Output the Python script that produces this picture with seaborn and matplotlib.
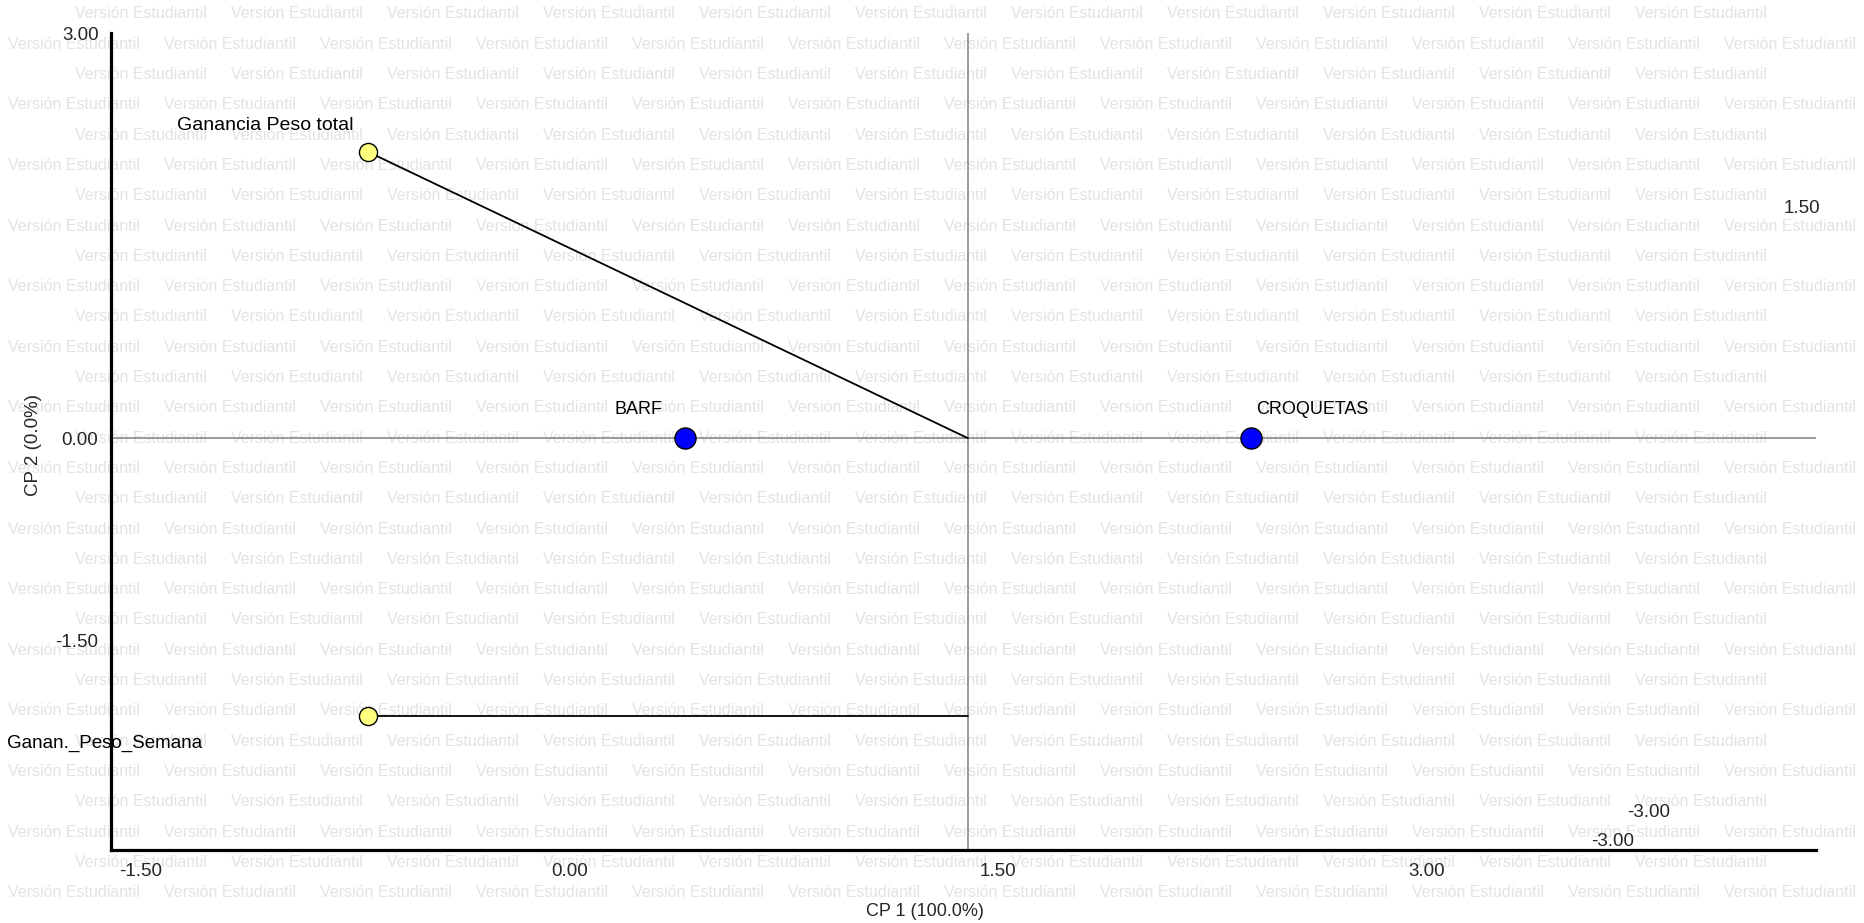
import numpy as np
import matplotlib
matplotlib.use("Agg")
import matplotlib.pyplot as plt
import matplotlib.transforms as mtransforms
import seaborn as sns

# biplot data (CP1, CP2)
obj_names = ["BARF", "CROQUETAS"]
obj_x = [-0.99, 0.99]
obj_y = [0.0, 0.0]

var_names = ["Ganancia Peso total", "Ganan._Peso_Semana"]
var_x = [-2.10, -2.10]
var_y = [2.12, -2.06]
var_end_x = [0.0, 0.0]
var_end_y = [0.0, -2.06]

x_ticks = [-3.0, -1.5, 0.0, 1.5]
x_tick_labels = ["-1.50", "0.00", "1.50", "3.00"]
y_ticks = [3.0, 0.0, -1.5]
y_tick_labels = ["3.00", "0.00", "-1.50"]
stray_labels = ["1.50", "-3.00", "-3.00"]

sns.set_style("white")
plt.rcParams["font.family"] = ["Liberation Sans", "DejaVu Sans"]
num_size = 13.5

fig = plt.figure(figsize=(18.65, 9.23), dpi=100)
ax = fig.add_axes([111 / 1865, 1 - 850 / 923, 1705 / 1865, 817 / 923])
ax.patch.set_alpha(0)

# watermark "Versión Estudiantil" behind the chart
wm = "Versión Estudiantil"
for i, yy in enumerate(np.arange(14, 923, 30.3)):
    start = 8 if i % 2 else 75
    for xx in np.arange(start, 1860 - 135, 156):
        fig.text(xx / 1865, 1 - yy / 923, wm, fontsize=11.5, color="#e3e3e3",
                 va="center", ha="left", zorder=-5)

ax.axvline(0, color="#808080", lw=1.1, zorder=1)
ax.axhline(0, color="#808080", lw=1.1, zorder=1)

for x0, y0, x1, y1 in zip(var_x, var_y, var_end_x, var_end_y):
    ax.plot([x0, x1], [y0, y1], color="black", lw=1.3, zorder=2)

sns.scatterplot(x=var_x, y=var_y, ax=ax, s=170, color="#ffff80", edgecolor="black",
                linewidth=1.0, zorder=3)
sns.scatterplot(x=obj_x, y=obj_y, ax=ax, s=230, color="#0000ff", edgecolor="black",
                linewidth=1.0, zorder=3)

lab_kw = dict(textcoords="offset pixels", va="center", color="black")
ax.annotate(var_names[0], (var_x[0], var_y[0]), xytext=(-15, 26), ha="right", fontsize=14, **lab_kw)
ax.annotate(var_names[1], (var_x[1], var_y[1]), xytext=(-166, -27), ha="right", fontsize=13.5, **lab_kw)
ax.annotate(obj_names[0], (obj_x[0], obj_y[0]), xytext=(-23, 29), ha="right", fontsize=13, **lab_kw)
ax.annotate(obj_names[1], (obj_x[1], obj_y[1]), xytext=(6, 29), ha="left", fontsize=13, **lab_kw)

ax.set_xlim(-3.0, 2.97)
ax.set_ylim(-3.05, 3.0)
ax.set_xticks(x_ticks)
ax.set_xticklabels(x_tick_labels, fontsize=num_size)
ax.set_yticks(y_ticks)
ax.set_yticklabels(y_tick_labels, fontsize=num_size)
ax.tick_params(axis="both", length=3, width=2.5, color="black", pad=6)
shift = mtransforms.ScaledTranslation(0.30, 0, fig.dpi_scale_trans)
for lab in ax.get_xticklabels():
    lab.set_transform(lab.get_transform() + shift)

sns.despine(ax=ax)
for side in ["left", "bottom"]:
    ax.spines[side].set_linewidth(2.3)
    ax.spines[side].set_color("black")

# stray labels as drawn by the original program
for (fx, fy), t in zip([(0.9918, 0.7858), (0.902, 0.0465), (0.881, 0.0098)], stray_labels):
    ax.text(fx, fy, t, transform=ax.transAxes, ha="center", va="center", fontsize=num_size)

fig.text(925 / 1865, 1 - 912 / 923, "CP 1 (100.0%)", ha="center", va="center", fontsize=13)
fig.text(33 / 1865, 1 - 445 / 923, "CP 2 (0.0%)", ha="center", va="center", rotation=90,
         fontsize=13.5)

fig.savefig("out.png", dpi=100)
